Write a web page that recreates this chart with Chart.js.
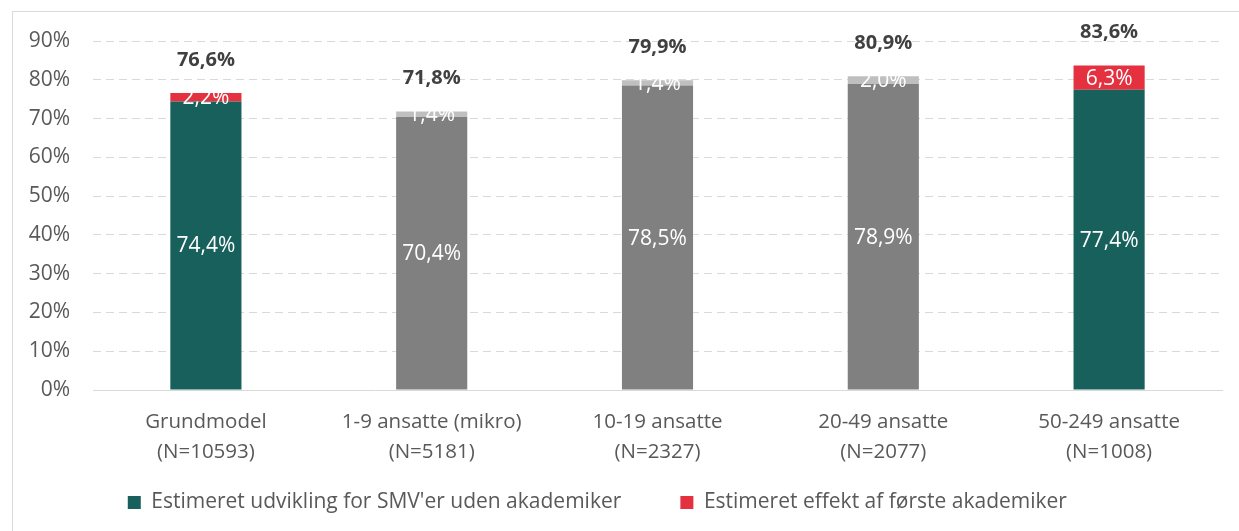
<!DOCTYPE html>
<html>
<head>
<meta charset="utf-8">
<script src="https://cdn.jsdelivr.net/npm/chart.js@4"></script>
<style>
  body { margin: 0; background: #fff; }
  #frame { position: absolute; left: 12px; top: 11px; width: 1240px; height: 540px; border: 1px solid #D9D9D9; box-sizing: border-box; }
  #wrap { position: absolute; left: 0; top: 0; width: 1239px; height: 531px; }
</style>
</head>
<body>
<div id="frame"></div>
<div id="wrap"><canvas id="chart"></canvas></div>
<script>
// Data
const categories = [
    ['Grundmodel', '(N=10593)'],
    ['1-9 ansatte (mikro)', '(N=5181)'],
    ['10-19 ansatte', '(N=2327)'],
    ['20-49 ansatte', '(N=2077)'],
    ['50-249 ansatte', '(N=1008)']
];
const baseValues = [74.4, 70.4, 78.5, 78.9, 77.4];
const effectValues = [2.2, 1.4, 1.4, 2.0, 6.3];
const totals = [76.6, 71.8, 79.9, 80.9, 83.6];
const seriesNames = ["Estimeret udvikling for SMV'er uden akademiker", 'Estimeret effekt af første akademiker'];
const yTicks = [0, 10, 20, 30, 40, 50, 60, 70, 80, 90];

const FONT = '"Open Sans", sans-serif';
const fmt = v => v.toFixed(1).replace('.', ',') + '%';

// Value labels inside the segments and totals on top
const labelPlugin = {
    id: 'labels',
    afterDatasetsDraw(chart) {
        const ctx = chart.ctx;
        ctx.save();
        ctx.textAlign = 'center';
        ctx.textBaseline = 'middle';
        chart.data.datasets.forEach((ds, di) => {
            const meta = chart.getDatasetMeta(di);
            meta.data.forEach((bar, i) => {
                ctx.fillStyle = '#FFFFFF';
                ctx.font = '21px ' + FONT;
                ctx.fillText(fmt(ds.data[i]), bar.x, (bar.y + bar.base) / 2 + 1);
                if (di === 1) {
                    ctx.fillStyle = '#404040';
                    ctx.font = 'bold 20px ' + FONT;
                    ctx.fillText(fmt(totals[i]), bar.x, bar.y - 33);
                }
            });
        });
        ctx.restore();
    }
};

const ctx = document.getElementById('chart').getContext('2d');
new Chart(ctx, {
    type: 'bar',
    data: {
        labels: categories,
        datasets: [{
            label: seriesNames[0],
            data: baseValues,
            backgroundColor: ['#17605B', '#808080', '#808080', '#808080', '#17605B'],
            borderWidth: 0
        }, {
            label: seriesNames[1],
            data: effectValues,
            backgroundColor: ['#E4303F', '#BFBFBF', '#BFBFBF', '#BFBFBF', '#E4303F'],
            borderWidth: 0
        }]
    },
    options: {
        responsive: true,
        maintainAspectRatio: false,
        animation: false,
        categoryPercentage: 1,
        barPercentage: 0.315,
        layout: { padding: { top: 41, right: 17, bottom: 8, left: 0 } },
        plugins: {
            legend: {
                position: 'bottom',
                labels: {
                    boxWidth: 13,
                    boxHeight: 13,
                    padding: 10,
                    color: '#595959',
                    font: { family: FONT, size: 21 },
                    generateLabels(chart) {
                        const items = Chart.defaults.plugins.legend.labels.generateLabels(chart);
                        // extra room between the two entries, and a small shift left like the original
                        items[0].text += '         ';
                        items[1].text += '     ';
                        return items;
                    }
                }
            },
            tooltip: { enabled: false }
        },
        scales: {
            x: {
                stacked: true,
                grid: { display: false },
                border: { display: true, color: '#D9D9D9', width: 1 },
                ticks: {
                    color: '#595959',
                    padding: 10,
                    maxRotation: 0,
                    font: { family: FONT, size: 20.5, lineHeight: 1.42 }
                },
                afterFit: scale => { scale.height = 92; }
            },
            y: {
                stacked: true,
                min: 0,
                max: 90,
                afterBuildTicks: scale => { scale.ticks = yTicks.map(v => ({ value: v })); },
                grid: { color: '#D9D9D9', lineWidth: 1, drawTicks: false },
                border: { display: false, dash: [8, 5] },
                ticks: {
                    color: '#595959',
                    padding: 23,
                    font: { family: FONT, size: 21 },
                    callback: v => v + '%'
                },
                afterFit: scale => { scale.width = 93; }
            }
        }
    },
    plugins: [labelPlugin]
});
</script>
</body>
</html>
